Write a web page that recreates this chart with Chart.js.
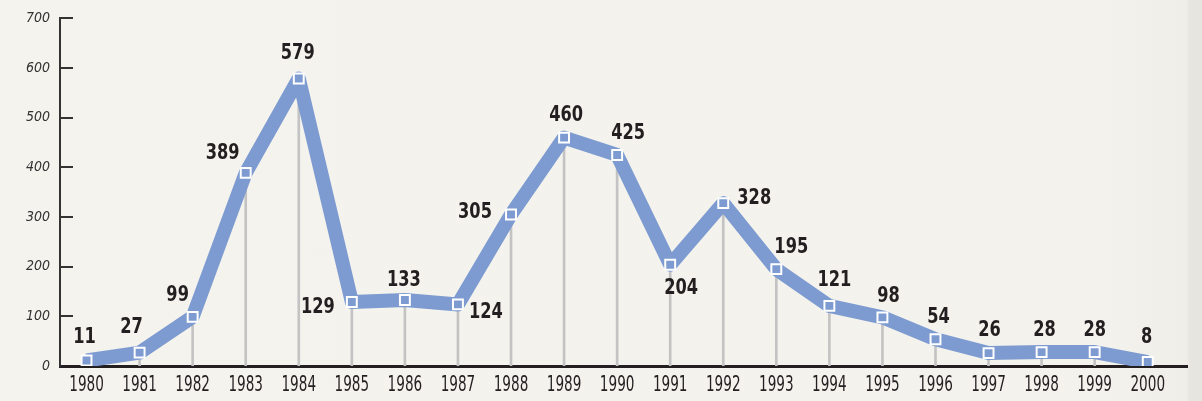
<!DOCTYPE html>
<html>
<head>
<meta charset="utf-8">
<script src="https://cdn.jsdelivr.net/npm/chart.js@4/dist/chart.umd.min.js"></script>
<style>
    html, body {
        margin: 0;
        padding: 0;
        width: 1202px;
        height: 401px;
        overflow: hidden;
        background: linear-gradient(to right, #f4f3ee 0px, #f3f2ed 1100px, #efeee9 1186px, #e7e5e0 1190px, #e6e4df 1202px);
    }
    #wrap { position: relative; width: 1202px; height: 401px; }
</style>
</head>
<body>
<div id="wrap"><canvas id="chart" width="1202" height="401"></canvas></div>
<script>
const years = [1980, 1981, 1982, 1983, 1984, 1985, 1986, 1987, 1988, 1989, 1990,
    1991, 1992, 1993, 1994, 1995, 1996, 1997, 1998, 1999, 2000];
const values = [11, 27, 99, 389, 579, 129, 133, 124, 305, 460, 425,
    204, 328, 195, 121, 98, 54, 26, 28, 28, 8];
const yTicks = [0, 100, 200, 300, 400, 500, 600, 700];

// where each value label sits relative to its point (px)
const labelOffsets = [
    [-2, -23], [-8, -25], [-15, -22], [-23, -20], [-1, -25], [-34, 5], [-1, -20],
    [28, 8], [-36, -2], [2, -22], [11, -22], [11, 24], [31, -5], [15, -22],
    [5, -26], [6, -21], [3, -22], [1, -23], [3, -22], [0, -22], [-1, -25]
];

const LINE_COLOR = '#7d9bd0';
const NARROW = "'Liberation Sans Narrow', 'DejaVu Sans Condensed', 'Roboto Condensed', sans-serif";

const points = years.map((y, i) => ({ x: y, y: values[i] }));

// squeezed text, to get closer to the condensed face of the original
function squeezeText(ctx, text, x, y, sx) {
    ctx.save();
    ctx.translate(x, y);
    ctx.scale(sx, 1);
    ctx.fillText(text, 0, 0);
    ctx.restore();
}

const axisExtras = {
    id: 'axisExtras',
    afterDraw(chart) {
        const ctx = chart.ctx;
        const x = chart.scales.x;
        const y = chart.scales.y;
        const left = chart.chartArea.left;
        ctx.save();
        ctx.strokeStyle = '#333';
        ctx.lineWidth = 2;
        yTicks.forEach(v => {
            if (v === 0) return;
            const py = Math.round(y.getPixelForValue(v));
            ctx.beginPath();
            ctx.moveTo(left, py);
            ctx.lineTo(left + 13, py);
            ctx.stroke();
        });
        ctx.fillStyle = '#231f20';
        ctx.font = '21px ' + NARROW;
        ctx.textAlign = 'center';
        ctx.textBaseline = 'middle';
        years.forEach(v => {
            squeezeText(ctx, String(v), x.getPixelForValue(v), chart.chartArea.bottom + 20, 0.72);
        });
        ctx.restore();
    }
};

const valueLabels = {
    id: 'valueLabels',
    afterDatasetsDraw(chart) {
        const ctx = chart.ctx;
        const meta = chart.getDatasetMeta(1);
        ctx.save();
        ctx.fillStyle = '#231f20';
        ctx.font = 'bold 22px ' + NARROW;
        ctx.textAlign = 'center';
        ctx.textBaseline = 'middle';
        meta.data.forEach((pt, i) => {
            const off = labelOffsets[i];
            squeezeText(ctx, String(values[i]), pt.x + off[0], pt.y + off[1], 0.82);
        });
        ctx.restore();
    }
};

new Chart(document.getElementById('chart').getContext('2d'), {
    type: 'line',
    data: {
        datasets: [{
            type: 'bar',
            label: 'drop',
            data: points,
            backgroundColor: '#c3c3c3',
            barThickness: 2,
            order: 2
        }, {
            type: 'line',
            label: 'value',
            data: points,
            borderColor: LINE_COLOR,
            borderWidth: 14,
            borderJoinStyle: 'round',
            tension: 0,
            pointStyle: 'rect',
            pointRadius: 7,
            pointBackgroundColor: LINE_COLOR,
            pointBorderColor: '#ffffff',
            pointBorderWidth: 2,
            order: 1
        }]
    },
    options: {
        responsive: false,
        animation: false,
        layout: { padding: { top: 18, right: 15, left: 0, bottom: 0 } },
        plugins: {
            legend: { display: false },
            tooltip: { enabled: false }
        },
        scales: {
            x: {
                type: 'linear',
                offset: false,
                min: 1979.5,
                max: 2000.74,
                afterBuildTicks: axis => { axis.ticks = years.map(v => ({ value: v })); },
                afterFit: axis => { axis.height = 35; },
                grid: { display: false, drawTicks: false, offset: false },
                border: { display: true, color: '#231f20', width: 3 },
                ticks: { display: false }
            },
            y: {
                min: 0,
                max: 700,
                afterBuildTicks: axis => { axis.ticks = yTicks.map(v => ({ value: v })); },
                afterFit: axis => { axis.width = 60; },
                grid: { display: false, drawTicks: false },
                border: { display: true, color: '#333', width: 2 },
                ticks: {
                    padding: 10,
                    color: '#333',
                    font: { family: NARROW, size: 14, style: 'italic' },
                    callback: v => String(v)
                }
            }
        }
    },
    plugins: [axisExtras, valueLabels]
});
</script>
</body>
</html>
